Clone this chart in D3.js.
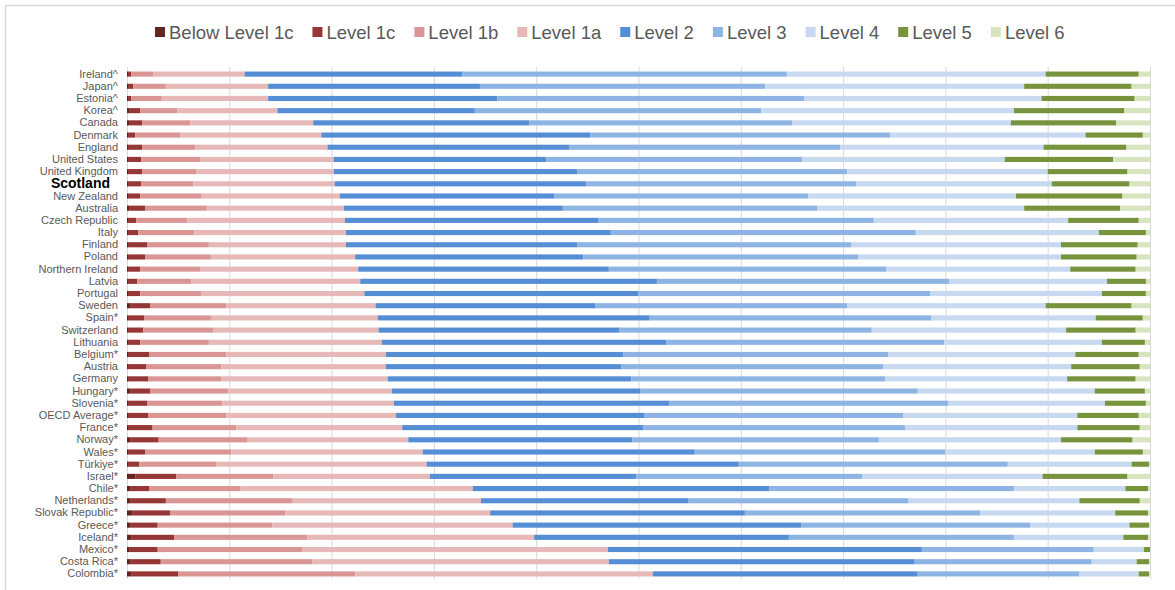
<!DOCTYPE html>
<html><head><meta charset="utf-8">
<script src="https://cdn.jsdelivr.net/npm/d3@7/dist/d3.min.js"></script>
<style>body{margin:0;background:#fff;}svg{display:block;font-family:"Liberation Sans",Arial,sans-serif;}</style>
</head><body>
<svg id="chart" width="1175" height="590"></svg>
<script>
const countries = ["Ireland^","Japan^","Estonia^","Korea^","Canada","Denmark","England","United States","United Kingdom","Scotland","New Zealand","Australia","Czech Republic","Italy","Finland","Poland","Northern Ireland","Latvia","Portugal","Sweden","Spain*","Switzerland","Lithuania","Belgium*","Austria","Germany","Hungary*","Slovenia*","OECD Average*","France*","Norway*","Wales*","Türkiye*","Israel*","Chile*","Netherlands*","Slovak Republic*","Greece*","Iceland*","Mexico*","Costa Rica*","Colombia*"];
const levels = ["Below Level 1c","Level 1c","Level 1b","Level 1a","Level 2","Level 3","Level 4","Level 5","Level 6"];
const colors = ["#632523","#953735","#d99694","#e6b9b8","#558ed5","#8eb4e3","#c6d9f1","#77933c","#d7e4bd"];
const xTicks = [0,10,20,30,40,50,60,70,80,90,100];

const belowLevel1c = [0.1,0.1,0.1,0.2,0.2,0.1,0.1,0.1,0.1,0.1,0.1,0.2,0.1,0.1,0.1,0.1,0.1,0.1,0.1,0.3,0.1,0.1,0.1,0.1,0.1,0.1,0.3,0.1,0.1,0.1,0.3,0.1,0.1,0.8,0.3,0.3,0.5,0.3,0.4,0.2,0.3,0.4];
const level1c = [0.3,0.5,0.3,1.1,1.3,0.7,1.4,1.3,1.4,1.3,1.2,1.6,0.8,1.0,1.9,1.7,1.2,0.9,1.2,2.0,1.6,1.5,1.2,2.1,1.8,2.0,2.0,1.9,2.0,2.4,2.8,1.7,1.1,4.0,1.9,3.5,3.7,2.7,4.2,2.8,3.0,4.6];
const level1b = [2.2,3.2,3.0,3.6,4.7,4.4,5.2,5.8,5.3,5.1,6.0,6.0,5.0,5.5,6.0,6.4,5.9,5.3,6.0,7.4,6.5,6.8,6.7,7.5,7.3,7.1,7.6,7.3,7.6,8.2,8.7,8.4,7.5,9.5,8.9,12.4,11.3,11.2,13.0,14.1,14.8,17.3];
const level1a = [8.9,10.0,10.4,9.8,12.0,13.8,12.9,13.0,13.4,13.8,13.5,13.4,15.4,14.8,13.4,14.1,15.4,16.5,15.9,14.6,16.3,16.2,16.9,15.6,16.1,16.3,16.0,16.8,16.6,16.2,15.7,18.7,20.6,15.3,22.7,18.4,20.0,23.5,22.2,29.9,29.0,29.1];
const level2 = [21.3,20.7,22.4,19.3,21.1,26.3,23.6,20.8,23.8,24.6,21.0,21.4,24.8,25.9,22.6,22.3,24.5,29.0,26.8,21.5,26.6,23.5,27.8,23.2,23.0,23.8,24.3,26.9,24.3,23.6,21.9,26.6,30.5,20.2,29.0,20.3,24.9,28.2,24.9,30.7,29.9,25.9];
const level3 = [31.7,27.9,30.0,28.0,25.7,29.3,26.5,25.0,26.4,26.4,24.8,24.9,26.9,29.8,26.8,26.9,27.1,28.6,28.5,24.6,27.5,24.7,27.2,25.9,25.6,24.8,27.1,27.3,25.3,25.6,24.1,24.5,26.3,22.1,23.9,21.5,23.0,22.4,22.0,16.8,17.3,15.8];
const level4 = [25.3,25.3,23.2,24.7,21.4,19.1,19.9,19.8,19.6,19.1,20.3,20.2,19.0,17.9,20.5,19.8,18.0,15.4,16.8,19.4,16.1,19.0,15.4,18.3,18.4,17.8,17.3,15.3,17.0,16.8,17.8,14.6,12.1,17.6,10.9,16.7,13.2,9.7,10.7,4.9,4.4,5.8];
const level5 = [9.1,10.5,9.1,10.8,10.3,5.6,8.1,10.6,7.8,7.6,10.4,9.4,6.9,4.6,7.5,7.4,6.4,3.8,4.3,8.4,4.6,6.8,4.2,6.2,6.7,6.7,4.9,4.0,6.0,6.1,7.0,4.7,1.7,8.3,2.2,5.9,3.2,1.9,2.4,0.6,1.2,1.0];
const level6 = [1.1,1.8,1.5,2.5,3.3,0.7,2.3,3.6,2.2,2.0,2.7,2.9,1.1,0.4,1.2,1.3,1.4,0.4,0.4,1.8,0.7,1.4,0.5,1.1,1.0,1.4,0.5,0.4,1.1,1.0,1.7,0.7,0.1,2.2,0.2,1.0,0.2,0.1,0.2,0.0,0.1,0.1];

const series = [belowLevel1c,level1c,level1b,level1a,level2,level3,level4,level5,level6];
const rows = countries.map((c,i)=>{const o={country:c}; levels.forEach((l,j)=>o[l]=series[j][i]); return o;});

const svg = d3.select("#chart");
// outer frame
svg.append("rect").attr("x",5.5).attr("y",5.5).attr("width",1200).attr("height",620)
  .attr("fill","none").attr("stroke","#d9d9d9").attr("stroke-width",1.5);

const x = d3.scaleLinear().domain([0,100]).range([127,1150]);
const y = d3.scaleBand().domain(countries).range([68,580]).paddingInner(0.58).paddingOuter(0.29);

// gridlines
svg.append("g").selectAll("line").data(xTicks).join("line")
  .attr("x1",d=>x(d)+0.5).attr("x2",d=>x(d)+0.5).attr("y1",67).attr("y2",579)
  .attr("stroke","#d9d9d9").attr("stroke-width",1);

const stack = d3.stack().keys(levels)(rows);
svg.append("g").selectAll("g").data(stack).join("g")
  .attr("fill",(d,i)=>colors[i])
  .selectAll("rect").data(d=>d).join("rect")
  .attr("x",d=>x(d[0])).attr("width",d=>Math.max(0,x(d[1])-x(d[0])))
  .attr("y",d=>y(d.data.country)).attr("height",y.bandwidth());

// y labels
const yAxis = d3.axisLeft(y).tickSize(0).tickPadding(0);
const ga = svg.append("g").attr("transform","translate(118,0)").call(yAxis);
ga.select(".domain").remove();
ga.selectAll("text").attr("fill","#595959").style("font-size","11px")
  .attr("font-family","'Liberation Sans',Arial,sans-serif");
ga.selectAll(".tick").filter(d=>d==="Scotland").select("text")
  .attr("fill","#000").style("font-size","14px").style("font-weight","bold").attr("x",-8);

// legend
const lg = svg.append("g");
let lx = 155;
levels.forEach((l,i)=>{
  lg.append("rect").attr("x",lx).attr("y",27).attr("width",10).attr("height",10).attr("fill",colors[i]);
  const t = lg.append("text").attr("x",lx+14).attr("y",39).text(l)
    .attr("fill","#595959").style("font-size","18.5px");
  lx += 14 + t.node().getComputedTextLength() + 19;
});
</script>
</body></html>
